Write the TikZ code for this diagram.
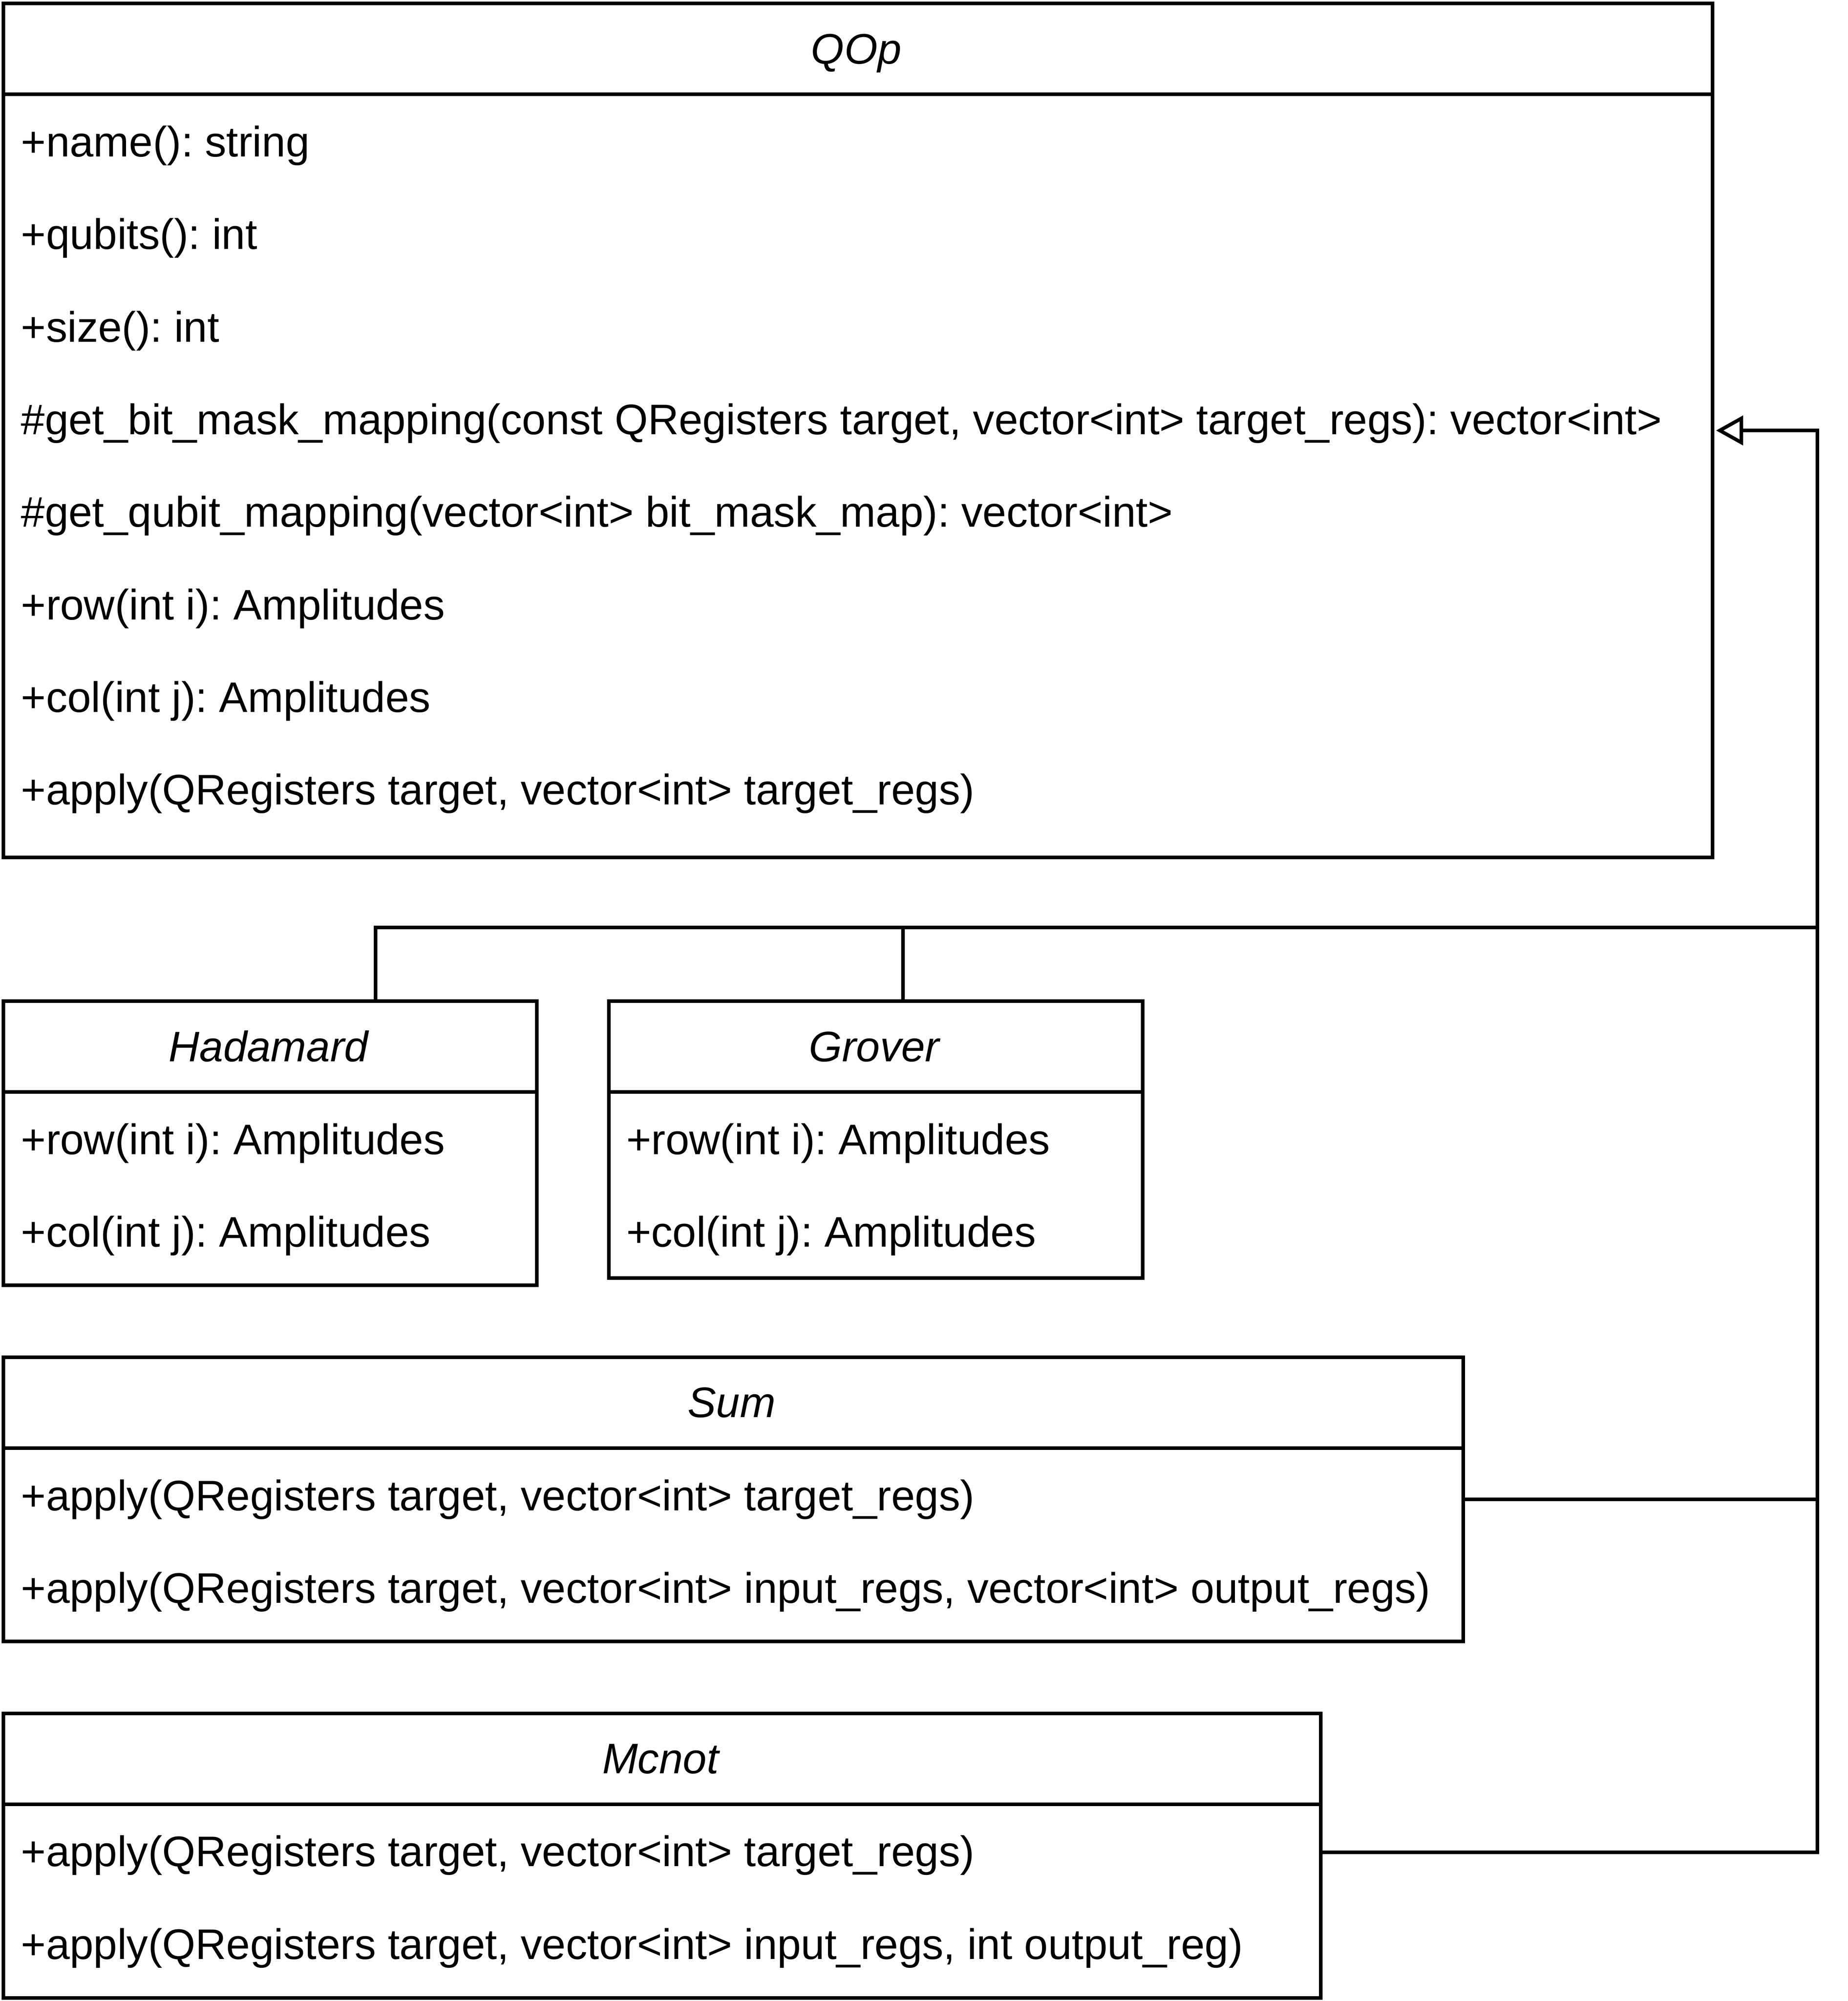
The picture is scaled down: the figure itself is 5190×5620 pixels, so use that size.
\documentclass[tikz,border=0pt]{standalone}
\usepackage{fontspec}
\setmainfont{Liberation Sans}
\usetikzlibrary{arrows.meta}
\frenchspacing
\tikzset{
  classbox/.style={draw=black, line width=10pt, fill=white, anchor=north west, inner sep=0pt, minimum width=#1},
  sepline/.style={draw=black, line width=10pt},
  conn/.style={draw=black, line width=10pt},
  mem/.style={anchor=base west, inner sep=0pt, font=\fontsize{120}{144}\selectfont},
  ttl/.style={anchor=base, inner sep=0pt, font=\fontsize{120}{144}\selectfont\itshape},
  inherit/.style={-{Triangle[open, length=76pt, width=82pt, line join=miter]}}
}
\begin{document}
\begin{tikzpicture}[x=1pt, y=-1pt]
\frenchspacing
\useasboundingbox (0,0) rectangle (5190,5620);

% ---------- QOp ----------
\node[classbox=4800pt, minimum height=2398pt] (qop) at (5,5) {};
\draw[sepline] ([yshift=-260pt]qop.north west) -- ([yshift=-260pt]qop.north east);
\node[ttl] (qopT) at (2405,179) {QOp};
\node[mem] (q1) at (59,440) {+name(): string};
\node[mem] (q2) at (59,700) {+qubits(): int};
\node[mem] (q3) at (59,960) {+size(): int};
\node[mem] (q4) at (59,1220) {\#get\_bit\_mask\_mapping(const QRegisters target, vector<int> target\_regs): vector<int>};
\node[mem] (q5) at (59,1480) {\#get\_qubit\_mapping(vector<int> bit\_mask\_map): vector<int>};
\node[mem] (q6) at (59,1740) {+row(int i): Amplitudes};
\node[mem] (q7) at (59,2000) {+col(int j): Amplitudes};
\node[mem] (q8) at (59,2260) {+apply(QRegisters target, vector<int> target\_regs)};

% ---------- Hadamard ----------
\node[classbox=1498pt, minimum height=798pt] (had) at (5,2807) {};
\draw[sepline] ([yshift=-260pt]had.north west) -- ([yshift=-260pt]had.north east);
\node[ttl] (hadT) at (754,2981) {Hadamard};
\node[mem] (h1) at (59,3242) {+row(int i): Amplitudes};
\node[mem] (h2) at (59,3502) {+col(int j): Amplitudes};

% ---------- Grover ----------
\node[classbox=1500pt, minimum height=777pt] (grov) at (1705,2807) {};
\draw[sepline] ([yshift=-260pt]grov.north west) -- ([yshift=-260pt]grov.north east);
\node[ttl] (grovT) at (2455,2981) {Grover};
\node[mem] (g1) at (1759,3242) {+row(int i): Amplitudes};
\node[mem] (g2) at (1759,3502) {+col(int j): Amplitudes};

% ---------- Sum ----------
\node[classbox=4100pt, minimum height=798pt] (sum) at (5,3807) {};
\draw[sepline] ([yshift=-260pt]sum.north west) -- ([yshift=-260pt]sum.north east);
\node[ttl] (sumT) at (2055,3981) {Sum};
\node[mem] (s1) at (59,4242) {+apply(QRegisters target, vector<int> target\_regs)};
\node[mem] (s2) at (59,4502) {+apply(QRegisters target, vector<int> input\_regs, vector<int> output\_regs)};

% ---------- Mcnot ----------
\node[classbox=3700pt, minimum height=800pt] (mcnot) at (5,4807) {};
\draw[sepline] ([yshift=-260pt]mcnot.north west) -- ([yshift=-260pt]mcnot.north east);
\node[ttl] (mcnotT) at (1855,4981) {Mcnot};
\node[mem] (m1) at (59,5242) {+apply(QRegisters target, vector<int> target\_regs)};
\node[mem] (m2) at (59,5502) {+apply(QRegisters target, vector<int> input\_regs, int output\_reg)};

% ---------- connectors ----------
\coordinate (rail) at (5105,2605);
\draw[conn, inherit] ([yshift=10pt]mcnot.east) -| (rail) |- ([xshift=5pt]qop.east);
\draw[conn] (sum.east) -- (sum.east -| rail);
\draw[conn] ([xshift=1050pt]had.north west) |- (rail);
\draw[conn] ([xshift=831pt]grov.north west) -- ([xshift=831pt]grov.north west |- rail);
\end{tikzpicture}
\end{document}
